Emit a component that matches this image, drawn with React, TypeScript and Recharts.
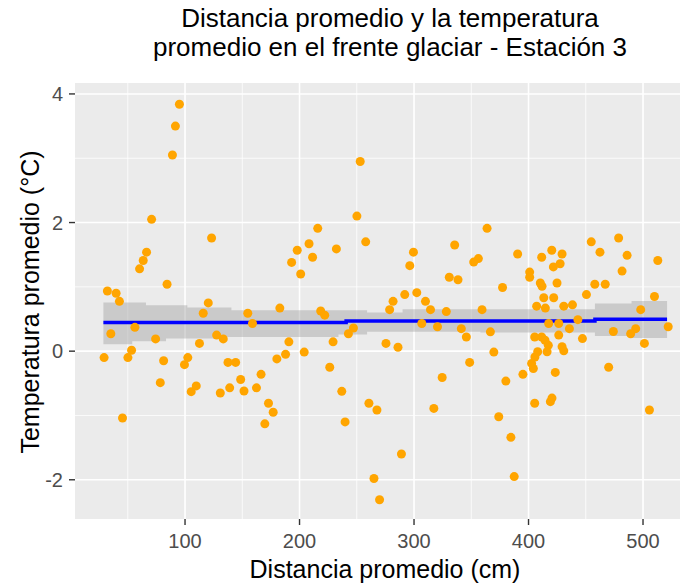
import {
  ComposedChart,
  Scatter,
  Line,
  Area,
  XAxis,
  YAxis,
  CartesianGrid,
} from 'recharts';

// Distancia promedio (cm) / Temperatura promedio (°C)
const distancia = [
  95.1, 91.6, 89, 70.8, 123.2, 66.4, 63.5, 60.3, 84.3, 32.2, 39.8, 42.7, 120.3, 115.9, 35.2, 56.2,
  74.3, 112.6, 127.6, 133.4, 53.3, 29.3, 50.1, 81.3, 102.4, 99.5, 137.5, 78.4, 109.8, 105.4, 130.8,
  139, 45.4, 253, 250.1, 215.9, 257.8, 208.3, 232.2, 198, 211.4, 193.1, 201, 182.8, 154.8, 158.9,
  218.5, 222, 247.1, 242.7, 190.7, 229.3, 204.1, 187.8, 180.2, 144.2, 226.4, 148.6, 166.4, 151.5,
  162.4, 236.9, 172.9, 177, 169.7, 239.8, 260.6, 267.6, 265, 269.9, 363.8, 335.5, 299.5, 390.5,
  296.3, 356.2, 352.1, 330.8, 338.4, 377.3, 291.9, 302.4, 281.7, 310, 278.7, 314.4, 328.2, 359.4,
  306.8, 320.5, 341.3, 366.7, 345.7, 275.5, 286, 369.7, 348.6, 324.6, 380.2, 395.1, 317.3, 374,
  384.6, 289, 387.5, 478.7, 454.8, 420.3, 429.3, 462.4, 486.1, 512.9, 411.5, 427.6, 421.7, 481.7,
  401, 401, 410.3, 411.8, 424.9, 457.9, 467, 450.6, 413.3, 422, 510, 407.1, 414.7, 430.8, 438.4,
  498, 443.1, 417.6, 426.4, 435.7, 474.1, 493.6, 489.2, 522, 426.4, 447.1, 405.4, 411.5, 414.4,
  417.3, 416.2, 408, 405.6, 402.7, 404.2, 429.3, 430.8, 501.2, 423.4, 470, 405.4, 419.1, 420.5,
  505.6,
];
const temperatura = [
  3.84, 3.5, 3.05, 2.05, 1.76, 1.54, 1.41, 1.28, 1.04, 0.935, 0.9, 0.775, 0.75, 0.59, 0.27, 0.37,
  0.19, 0.12, 0.25, 0.19, 0.015, -0.1, -0.1, -0.15, -0.1, -0.21, -0.175, -0.49, -0.54, -0.63, -0.65,
  -0.57, -1.04, 2.95, 2.1, 1.91, 1.7, 1.67, 1.59, 1.57, 1.46, 1.38, 1.2, 0.67, 0.59, 0.43,
  0.625, 0.56, 0.36, 0.27, 0.145, 0.145, -0.015, -0.05, -0.12, -0.175, -0.25, -0.44, -0.36, -0.62,
  -0.57, -0.625, -0.81, -0.95, -1.13, -1.1, -0.81, -0.915, -1.98, -2.31, 1.91, 1.65, 1.54, 1.51,
  1.33, 1.44, 1.385, 1.15, 1.11, 0.99, 0.88, 0.91, 0.775, 0.775, 0.645, 0.645, 0.615, 0.645,
  0.43, 0.38, 0.35, 0.3, 0.22, 0.12, 0.06, -0.015, -0.175, -0.41, -0.465, -0.36, -0.89, -1.02,
  -1.34, -1.6, -1.95, 1.76, 1.7, 1.57, 1.51, 1.54, 1.49, 1.41, 1.46, 1.36, 1.31, 1.245,
  1.23, 1.15, 1.06, 1.01, 1.06, 1.04, 1.04, 0.88, 0.83, 0.83, 0.85, 0.7, 0.67, 0.7, 0.72,
  0.645, 0.49, 0.43, 0.43, 0.35, 0.305, 0.35, 0.27, 0.38, 0.25, 0.195, 0.22, 0.22, 0.17,
  0.09, -0.01, -0.01, -0.09, -0.19, -0.27, 0.07, 0.005, 0.12, -0.33, -0.25, -0.81, -0.785, -0.73,
  -0.915,
];

// ajuste (geom_smooth) y su banda de confianza
const ajusteX = [28.7, 240.7, 458, 521];
const ajusteY = [0.445, 0.47, 0.496, 0.496];
const bandaX = [28.7, 53.9, 65.9, 83.4, 102, 136, 140.5, 234, 259, 290, 358, 458, 490, 521];
const bandaInf = [0.109, 0.155, 0.155, 0.197, 0.197, 0.22, 0.22, 0.26, 0.3, 0.3, 0.29, 0.237, 0.206, 0.206];
const bandaSup = [0.755, 0.755, 0.713, 0.713, 0.677, 0.677, 0.636, 0.636, 0.6, 0.65, 0.65, 0.74, 0.78, 0.78];

const xTicks = [100, 200, 300, 400, 500];
const yTicks = [-2, 0, 2, 4];
const xMinor = [50, 150, 250, 350, 450];
const yMinor = [-1, 1, 3];

const puntos = distancia.map((x, i) => ({ x, y: temperatura[i] }));
const ajuste = ajusteX.map((x, i) => ({ x, fit: ajusteY[i] }));
const banda = bandaX.map((x, i) => ({ x, band: [bandaInf[i], bandaSup[i]] }));

const FONT = '"Liberation Sans", Arial, sans-serif';
const tickStyle = { fill: '#4D4D4D', fontSize: 20, fontFamily: FONT };

function Punto(props: { cx?: number; cy?: number }) {
  if (props.cx == null || props.cy == null) return null;
  return <circle cx={props.cx} cy={props.cy} r={4.5} fill="#FFA500" />;
}

export default function App() {
  return (
    <div style={{ position: 'absolute', left: 0, top: 0, width: 680, height: 584, background: '#fff', fontFamily: FONT }}>
      <div style={{ position: 'absolute', left: 90, width: 600, top: 4, textAlign: 'center', fontSize: 26, lineHeight: '29px', color: '#000' }}>
        Distancia promedio y la temperatura
        <br />
        promedio en el frente glaciar - Estación 3
      </div>
      <ComposedChart width={680} height={584} margin={{ top: 83, right: 0, bottom: 0, left: 0 }}>
        <CartesianGrid fill="#EBEBEB" stroke="#FFFFFF" strokeWidth={0.8} horizontalValues={yMinor} verticalValues={xMinor} />
        <CartesianGrid stroke="#FFFFFF" strokeWidth={1.6} horizontalValues={yTicks} verticalValues={xTicks} />
        <XAxis
          type="number"
          dataKey="x"
          domain={[3.9, 532.3]}
          allowDataOverflow
          ticks={xTicks}
          height={65}
          axisLine={false}
          tickLine={{ stroke: '#333333', strokeWidth: 1.4 }}
          tickSize={6}
          tickMargin={9}
          tick={tickStyle}
        />
        <YAxis
          type="number"
          domain={[-2.61, 4.17]}
          allowDataOverflow
          ticks={yTicks}
          width={75}
          axisLine={false}
          tickLine={{ stroke: '#333333', strokeWidth: 1.4 }}
          tickSize={6}
          tickMargin={6}
          tick={tickStyle}
        />
        <Scatter data={puntos} dataKey="y" shape={<Punto />} isAnimationActive={false} />
        <Area
          data={banda}
          dataKey="band"
          type="stepAfter"
          stroke="none"
          fill="#999999"
          fillOpacity={0.4}
          isAnimationActive={false}
        />
        <Line
          data={ajuste}
          dataKey="fit"
          type="stepAfter"
          stroke="#0000FF"
          strokeWidth={3.5}
          dot={false}
          isAnimationActive={false}
        />
      </ComposedChart>
      <div style={{ position: 'absolute', left: 75, width: 620, top: 555, textAlign: 'center', fontSize: 25, color: '#000' }}>
        Distancia promedio (cm)
      </div>
      <div
        style={{
          position: 'absolute',
          left: 30,
          top: 302,
          transform: 'translate(-50%, -50%) rotate(-90deg)',
          whiteSpace: 'nowrap',
          fontSize: 25,
          color: '#000',
        }}
      >
        Temperatura promedio (°C)
      </div>
    </div>
  );
}
